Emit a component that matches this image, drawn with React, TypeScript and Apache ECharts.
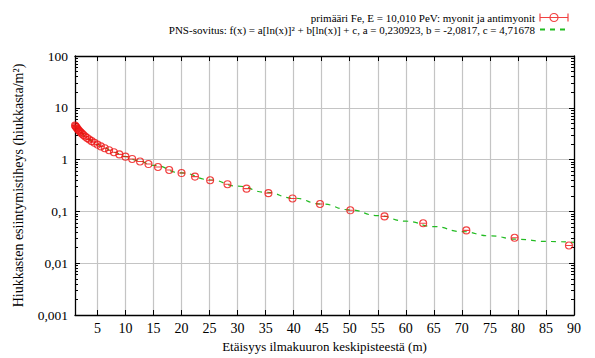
import React, { useEffect, useRef } from 'react';
import * as echarts from 'echarts';

// ---- data ----
const seriesNames = [
  'primääri Fe, E = 10,010 PeV: myonit ja antimyonit',
  'PNS-sovitus: f(x) = a[ln(x)]² + b[ln(x)] + c, a = 0,230923, b = -2,0817, c = 4,71678',
];

const pointX = [
  1.0, 1.12, 1.26, 1.41, 1.58, 1.78, 2.0, 2.24, 2.51, 2.82,
  3.16, 3.55, 3.98, 4.47, 5.01, 5.62, 6.31, 7.08, 7.94, 8.91,
  10.0, 11.2, 12.6, 14.1, 15.8, 17.8, 20.0, 22.4, 25.1, 28.2,
  31.6, 35.5, 39.8, 44.7, 50.1, 56.2, 63.1, 70.8, 79.4, 89.1,
];
const pointY = [
  4.55, 4.38, 4.18, 3.98, 3.77, 3.56, 3.37, 3.17, 2.98, 2.8,
  2.62, 2.44, 2.27, 2.11, 1.95, 1.8, 1.66, 1.52, 1.39, 1.26,
  1.14, 1.03, 0.92, 0.82, 0.72, 0.63, 0.55, 0.47, 0.4, 0.335,
  0.275, 0.225, 0.178, 0.139, 0.105, 0.08, 0.059, 0.043, 0.031, 0.022,
];

const fitX = [1, 1.5, 2, 3, 4, 5, 6, 8, 10, 12, 15, 20, 25, 30, 35, 40, 45, 50, 55, 60, 65, 70, 75, 80, 85, 90];
const fitY = [
  4.7168, 3.911, 3.3848, 2.7085, 2.2747, 1.9646, 1.7282, 1.3865, 1.1478, 0.9699,
  0.7729, 0.553, 0.4087, 0.3079, 0.2346, 0.18, 0.1387, 0.1072, 0.0831, 0.0647,
  0.0509, 0.0408, 0.0337, 0.029, 0.0263, 0.0253,
];

const xTicks = [5, 10, 15, 20, 25, 30, 35, 40, 45, 50, 55, 60, 65, 70, 75, 80, 85, 90];
const yTickValues = [0.001, 0.01, 0.1, 1, 10, 100];
const yTickLabels = ['0,001', '0,01', '0,1', '1', '10', '100'];
const minorMultipliers = [2, 3, 4, 5, 6, 7, 8, 9];

const X_MIN = 1;
const X_MAX = 90;
const Y_MIN = 0.001;
const Y_MAX = 100;

const xName = 'Etäisyys ilmakuuron keskipisteestä (m)';
const yName = 'Hiukkasten esiintymistiheys (hiukkasta/m²)';

// ---- style ----
const FONT = 'Liberation Serif';
const RED = '#ee1111';
const GREEN = '#22bb22';
const GRID = '#c4c4c4';

const POINT_SYMBOL = 'path://M1,5A4,4 0 1,0 9,5A4,4 0 1,0 1,5ZM1,5L9,5';
const LEGEND_ERR_ICON = 'path://M0,1L0,9M0,5L28,5M28,1L28,9M10,5A4,4 0 1,0 18,5A4,4 0 1,0 10,5Z';

function buildMinor(): number[] {
  const out: number[] = [];
  for (let i = 0; i < yTickValues.length - 1; i++) {
    for (const m of minorMultipliers) out.push(+(yTickValues[i] * m).toPrecision(6));
  }
  return out;
}

export default function App() {
  const ref = useRef<HTMLDivElement>(null);
  useEffect(() => {
    if (!ref.current) return;
    const chart = echarts.init(ref.current, null, { renderer: 'svg' });
    const minor = buildMinor();
    const axisLine = { show: true, lineStyle: { color: '#000', width: 1.3 } };
    const yLabel = (v: number) => {
      const idx = yTickValues.findIndex((t) => Math.abs(Math.log10(t) - Math.log10(v)) < 1e-6);
      return idx >= 0 ? yTickLabels[idx] : '';
    };
    const option: any = {
      animation: false,
      backgroundColor: '#fff',
      textStyle: { fontFamily: FONT },
      grid: { left: 75, right: 21, top: 56, bottom: 43, containLabel: false },
      legend: {
        orient: 'vertical',
        align: 'right',
        right: 26,
        top: 11,
        padding: 0,
        itemWidth: 28,
        itemHeight: 8,
        itemGap: -1,
        textStyle: { fontFamily: FONT, fontSize: 11, color: '#000', lineHeight: 13 },
        data: [
          {
            name: seriesNames[0],
            icon: LEGEND_ERR_ICON,
            itemStyle: { color: 'rgba(255,255,255,0)', borderColor: RED, borderWidth: 1.2 },
          },
          {
            name: seriesNames[1],
            itemStyle: { color: 'rgba(0,0,0,0)', borderColor: 'rgba(0,0,0,0)', borderWidth: 0 },
          },
        ],
      },
      xAxis: [
        {
          type: 'value',
          min: X_MIN,
          max: X_MAX,
          position: 'bottom',
          axisLine,
          axisTick: { show: true, inside: true, length: 5, customValues: xTicks, lineStyle: { color: '#000' } },
          axisLabel: { customValues: xTicks, color: '#000', fontSize: 14, margin: 6, fontFamily: FONT },
          splitLine: { show: true, lineStyle: { color: GRID, width: 1.2 } },
          name: xName,
          nameLocation: 'middle',
          nameGap: 25,
          nameTextStyle: { color: '#000', fontSize: 13, fontFamily: FONT },
        },
        {
          type: 'value',
          min: X_MIN,
          max: X_MAX,
          position: 'top',
          axisLine,
          axisTick: { show: true, inside: true, length: 5, customValues: xTicks, lineStyle: { color: '#000' } },
          axisLabel: { show: false },
          splitLine: { show: false },
        },
      ],
      yAxis: [
        {
          type: 'log',
          logBase: 10,
          min: Y_MIN,
          max: Y_MAX,
          position: 'left',
          axisLine,
          axisTick: { show: true, inside: true, length: 5, lineStyle: { color: '#000' } },
          axisLabel: { color: '#000', fontSize: 13.5, margin: 7, fontFamily: FONT, formatter: yLabel },
          splitLine: { show: true, lineStyle: { color: GRID, width: 1.2 } },
          name: yName,
          nameLocation: 'middle',
          nameGap: 50,
          nameTextStyle: { color: '#000', fontSize: 14, fontFamily: FONT },
        },
        {
          type: 'log',
          logBase: 10,
          min: Y_MIN,
          max: Y_MAX,
          position: 'left',
          axisLine: { show: false },
          axisTick: { show: true, inside: true, length: 3, customValues: minor, lineStyle: { color: '#000' } },
          axisLabel: { show: false },
          splitLine: { show: false },
        },
        {
          type: 'log',
          logBase: 10,
          min: Y_MIN,
          max: Y_MAX,
          position: 'right',
          axisLine,
          axisTick: { show: true, inside: true, length: 5, lineStyle: { color: '#000' } },
          axisLabel: { show: false },
          splitLine: { show: false },
        },
        {
          type: 'log',
          logBase: 10,
          min: Y_MIN,
          max: Y_MAX,
          position: 'right',
          axisLine: { show: false },
          axisTick: { show: true, inside: true, length: 3, customValues: minor, lineStyle: { color: '#000' } },
          axisLabel: { show: false },
          splitLine: { show: false },
        },
      ],
      series: [
        {
          name: seriesNames[1],
          type: 'line',
          xAxisIndex: 0,
          yAxisIndex: 0,
          data: fitX.map((x, i) => [x, fitY[i]]),
          symbol: 'none',
          smooth: true,
          smoothMonotone: 'x',
          lineStyle: { color: GREEN, width: 1.2, type: [5, 5] },
          itemStyle: { color: GREEN },
          z: 2,
        },
        {
          name: seriesNames[0],
          type: 'scatter',
          xAxisIndex: 0,
          yAxisIndex: 0,
          data: pointX.map((x, i) => [x, pointY[i]]),
          symbol: POINT_SYMBOL,
          symbolSize: 7,
          itemStyle: { color: 'rgba(255,255,255,0)', borderColor: RED, borderWidth: 1.1 },
          z: 3,
        },
      ],
    };
    chart.setOption(option);
    return () => chart.dispose();
  }, []);
  return (
    <div
      ref={ref}
      style={{ position: 'absolute', left: 0, top: 0, width: 595, height: 358, background: '#fff' }}
    />
  );
}
